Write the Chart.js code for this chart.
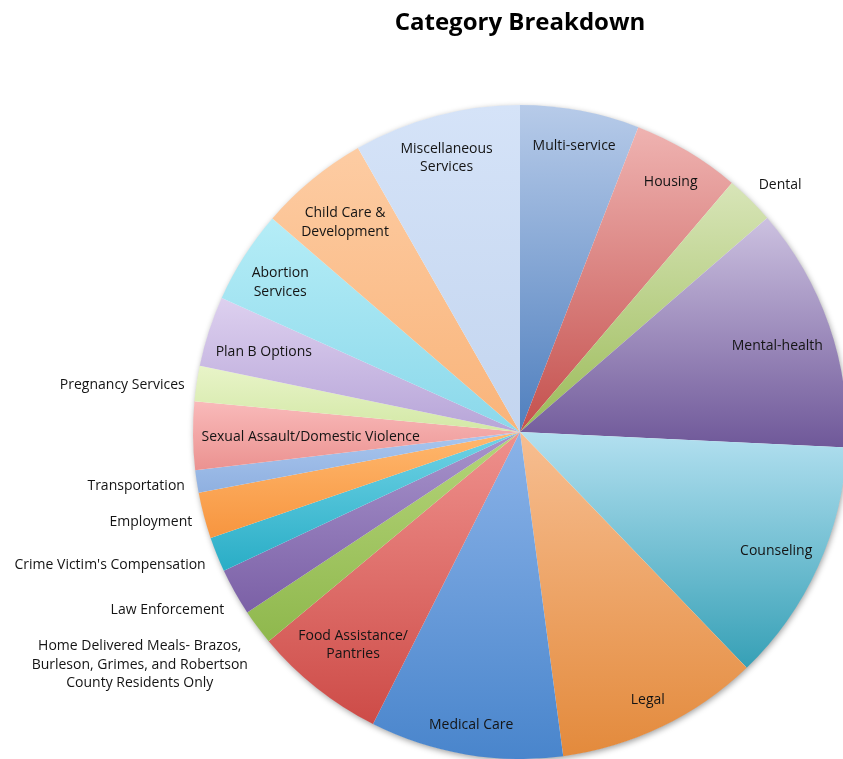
<!DOCTYPE html>
<html><head><meta charset="utf-8">
<script src="https://cdn.jsdelivr.net/npm/chart.js@4.4.1/dist/chart.umd.min.js"></script>
<style>
html,body{margin:0;padding:0;background:#fff;overflow:hidden;width:843px;height:759px}
#wrap{position:absolute;left:0;top:0;width:1040px;height:759px}
</style></head><body><div id="wrap"><canvas id="c" width="1040" height="759"></canvas></div>
<script>
const categories = [
  'Multi-service', 'Housing', 'Dental', 'Mental-health', 'Counseling', 'Legal', 'Medical Care',
  ['Food Assistance/', 'Pantries'],
  ['Home Delivered Meals- Brazos,', 'Burleson, Grimes, and Robertson', 'County Residents Only'],
  'Law Enforcement', "Crime Victim's Compensation", 'Employment', 'Transportation',
  'Sexual Assault/Domestic Violence', 'Pregnancy Services', 'Plan B Options',
  ['Abortion', 'Services'], ['Child Care &', 'Development'], ['Miscellaneous', 'Services']
];
const shares = [5.89, 5.33, 2.42, 12.11, 12.06, 10.08, 9.53, 6.53, 1.75, 2.33, 1.72, 2.28, 1.11, 3.36, 1.75, 3.47, 4.61, 5.42, 8.25];
const chartTitle = 'Category Breakdown';

const palette = [
  ['#b7cbe9', '#4f7fbe'], ['#efb3b1', '#c4504d'], ['#d8e5b8', '#9bbb59'],
  ['#ccc1e0', '#6f5899'], ['#b3e0f0', '#36a0b6'], ['#f7be91', '#e38a3c'],
  ['#8bb3e8', '#4985cc'], ['#ef918d', '#cd4b47'], ['#b5d47a', '#8fb84d'],
  ['#a894cc', '#7b60a6'], ['#70d3e6', '#29adc6'], ['#ffb86e', '#f7953f'],
  ['#a9c6ee', '#8fb0e0'], ['#f9baba', '#eb9290'], ['#e8f4c8', '#d3e8a6'],
  ['#ddd0ef', '#b7a5d8'], ['#b5edf7', '#8bd8ea'], ['#fdcca3', '#f9b47a'],
  ['#d5e3f8', '#c3d5ef']
];
const LABEL_FONT = '14px "Open Sans", sans-serif';
const LINE_H = 18.5;

const pieLook = {
  id: 'pieLook',
  beforeDatasetsDraw(chart) {
    const meta = chart.getDatasetMeta(0);
    const ctx = chart.ctx;
    const a0 = meta.data[0].getProps(['x', 'y', 'outerRadius'], true);
    ctx.save();
    ctx.shadowColor = 'rgba(0,0,0,0.4)';
    ctx.shadowBlur = 6; ctx.shadowOffsetX = 1; ctx.shadowOffsetY = 2;
    ctx.fillStyle = '#fff';
    ctx.beginPath(); ctx.arc(a0.x, a0.y, a0.outerRadius - 0.5, 0, Math.PI * 2); ctx.fill();
    ctx.restore();
    meta.data.forEach((arc, i) => {
      const p = arc.getProps(['x', 'y', 'startAngle', 'endAngle', 'outerRadius'], true);
      const ys = [p.y, p.y + p.outerRadius * Math.sin(p.startAngle), p.y + p.outerRadius * Math.sin(p.endAngle)];
      const inRange = t => { for (let k = -2; k <= 2; k++) { const tt = t + k * 2 * Math.PI; if (tt >= p.startAngle && tt <= p.endAngle) return true; } return false; };
      if (inRange(-Math.PI / 2)) ys.push(p.y - p.outerRadius);
      if (inRange(Math.PI / 2)) ys.push(p.y + p.outerRadius);
      const g = ctx.createLinearGradient(0, Math.min(...ys), 0, Math.max(...ys));
      g.addColorStop(0, palette[i][0]); g.addColorStop(1, palette[i][1]);
      try { arc.options.backgroundColor = g; } catch (e) {}
    });
  }
};

const sliceLabels = {
  id: 'sliceLabels',
  afterDatasetsDraw(chart) {
    const ctx = chart.ctx, meta = chart.getDatasetMeta(0);
    const total = shares.reduce((a, b) => a + b, 0);
    ctx.save();
    ctx.font = LABEL_FONT; ctx.fillStyle = '#141414'; ctx.textBaseline = 'middle'; ctx.textAlign = 'center';
    meta.data.forEach((arc, i) => {
      const p = arc.getProps(['x', 'y', 'startAngle', 'endAngle', 'outerRadius'], true);
      const lines = [].concat(chart.data.labels[i]);
      const w = Math.max(...lines.map(l => ctx.measureText(l).width));
      const h = lines.length * LINE_H;
      const mid = (p.startAngle + p.endAngle) / 2;
      const c = Math.cos(mid), s = Math.sin(mid), R = p.outerRadius;
      let cx, cy;
      if (shares[i] / total < 0.03) {
        const px = p.x + c * (R + 12), py = p.y + s * (R + 12);
        const k = Math.min(1, Math.max(0, (Math.abs(s) - 0.3) / 0.2));
        cy = py + Math.sign(s) * k * h / 2 + 3;
        cx = c < 0 ? px - w / 2 : px + w / 2;
      } else {
        const fits = r => { const X = c * r, Y = s * r; for (const dx of [-w / 2, w / 2]) for (const dy of [-h / 2, h / 2]) if (Math.hypot(X + dx, Y + dy) > R - 8) return false; return true; };
        let r = 0.9 * R;
        while (r > 0 && !fits(r)) r -= 1;
        cx = p.x + c * r; cy = p.y + s * r + 3;
      }
      lines.forEach((l, j) => ctx.fillText(l, cx, cy - h / 2 + LINE_H * (j + 0.5)));
    });
    ctx.restore();
  }
};

new Chart(document.getElementById('c'), {
  type: 'pie',
  data: {
    labels: categories,
    datasets: [{ data: shares, backgroundColor: palette.map(p => p[1]), borderWidth: 0, hoverOffset: 0 }]
  },
  options: {
    responsive: false, animation: false, devicePixelRatio: 1, events: [],
    layout: { padding: 0 },
    plugins: {
      legend: { display: false }, tooltip: { enabled: false },
      title: {
        display: true, text: chartTitle, color: '#000',
        font: { family: '"Open Sans", sans-serif', size: 24, weight: 'bold', lineHeight: 1.2 },
        padding: { top: 9, bottom: 67.2 }
      }
    }
  },
  plugins: [pieLook, sliceLabels]
});
</script></body></html>
